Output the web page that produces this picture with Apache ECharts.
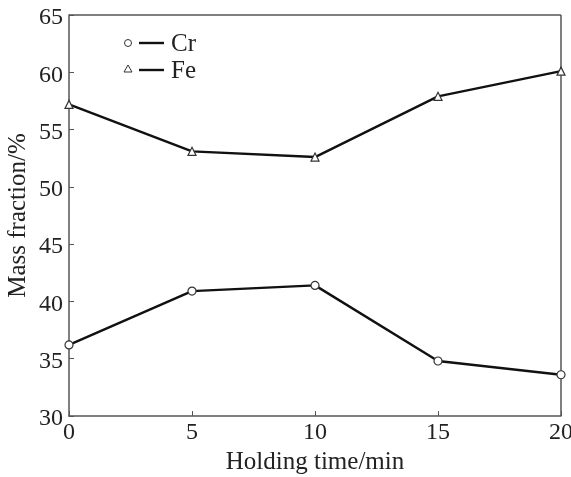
<!DOCTYPE html>
<html>
<head>
<meta charset="utf-8">
<script src="https://cdn.jsdelivr.net/npm/echarts@6/dist/echarts.min.js"></script>
<style>
  html, body { margin: 0; padding: 0; background: #fff; }
  #chart { width: 571px; height: 477px; }
</style>
</head>
<body>
<div id="chart"></div>
<script>
var holdingTime = [0, 5, 10, 15, 20]
var crValues = [36.2, 40.9, 41.4, 34.8, 33.6]
var feValues = [57.2, 53.1, 52.6, 57.9, 60.1]

var font = 'Liberation Serif'
var axisColor = '#555'
var textColor = '#222'

var chart = echarts.init(document.getElementById('chart'))

function seriesOf(name, symbol, size, values) {
  return {
    name: name,
    type: 'line',
    symbol: symbol,
    symbolSize: size,
    showSymbol: true,
    lineStyle: { color: '#111', width: 2.4 },
    itemStyle: { color: '#fff', borderColor: '#333', borderWidth: 1.2 },
    data: holdingTime.map(function (t, i) { return [t, values[i]] }),
    z: 3
  }
}

chart.setOption({
  animation: false,
  grid: { left: 69, right: 10, top: 15, bottom: 61, containLabel: false, outerBoundsMode: 'none' },
  xAxis: {
    type: 'value',
    min: 0, max: 20, interval: 5,
    name: 'Holding time/min',
    nameLocation: 'middle',
    nameGap: 34,
    nameTextStyle: { fontFamily: font, fontSize: 25, color: textColor },
    axisLine: { show: true, lineStyle: { color: axisColor, width: 1.5 } },
    axisTick: { inside: true, length: 5, lineStyle: { color: axisColor } },
    axisLabel: { fontFamily: font, fontSize: 24, color: textColor, margin: 5 },
    splitLine: { show: false }
  },
  yAxis: {
    type: 'value',
    min: 30, max: 65, interval: 5,
    name: 'Mass fraction/%',
    nameLocation: 'middle',
    nameGap: 38,
    nameMoveOverlap: false,
    nameTextStyle: { fontFamily: font, fontSize: 25, color: textColor },
    axisLine: { show: true, lineStyle: { color: axisColor, width: 1.5 } },
    axisTick: { inside: true, length: 5, lineStyle: { color: axisColor } },
    axisLabel: { fontFamily: font, fontSize: 24, color: textColor, margin: 6, verticalAlign: 'top', padding: [-9, 0, 0, 0] },
    splitLine: { show: false }
  },
  graphic: [
    // frame on top and right
    { type: 'line', shape: { x1: 69, y1: 15, x2: 561, y2: 15 }, style: { stroke: axisColor, lineWidth: 1.5 } },
    { type: 'line', shape: { x1: 561, y1: 15, x2: 561, y2: 416 }, style: { stroke: axisColor, lineWidth: 1.5 } },
    // legend
    { type: 'circle', shape: { cx: 128, cy: 43, r: 3.5 }, style: { fill: '#fff', stroke: '#333', lineWidth: 1 } },
    { type: 'line', shape: { x1: 139, y1: 43, x2: 164, y2: 43 }, style: { stroke: '#111', lineWidth: 2.4 } },
    { type: 'text', x: 171, y: 44, style: { text: 'Cr', fontFamily: font, fontSize: 25, fill: textColor, verticalAlign: 'middle' } },
    { type: 'polygon', shape: { points: [[128, 65], [124, 72], [132, 72]] }, style: { fill: '#fff', stroke: '#333', lineWidth: 1 } },
    { type: 'line', shape: { x1: 139, y1: 70, x2: 164, y2: 70 }, style: { stroke: '#111', lineWidth: 2.4 } },
    { type: 'text', x: 171, y: 71, style: { text: 'Fe', fontFamily: font, fontSize: 25, fill: textColor, verticalAlign: 'middle' } }
  ],
  series: [
    seriesOf('Cr', 'circle', 8, crValues),
    seriesOf('Fe', 'triangle', 8, feValues)
  ]
})
</script>
</body>
</html>
